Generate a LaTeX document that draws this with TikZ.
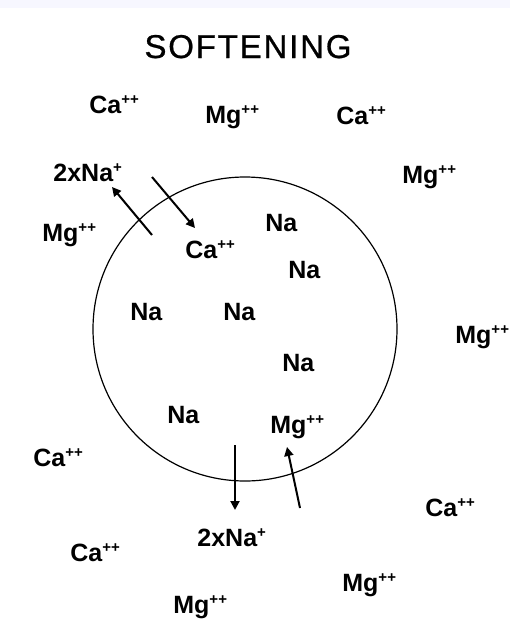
\documentclass[tikz,border=0pt]{standalone}
\usepackage{fontspec}
\setmainfont{Liberation Sans}
\usetikzlibrary{arrows.meta}
\newcommand{\chg}[1]{\raisebox{0.62ex}{\fontsize{7.5}{8}\selectfont #1}}

\begin{document}
\begin{tikzpicture}[x=0.5pt, y=-0.5pt,
    ion/.style={font=\bfseries\fontsize{12.5}{14}\selectfont, inner sep=0pt, anchor=base west},
    heading/.style={font=\fontsize{16.5}{20}\selectfont\addfontfeatures{LetterSpace=5.5, FakeBold=0.7}, inner sep=0pt, anchor=base},
    bead/.style={circle, draw, line width=0.6pt, minimum size=152pt, inner sep=0pt},
    arrow/.style={-{Triangle[length=4.5pt, width=4.5pt]}, line width=1pt}
]
\clip (0,0) rectangle (510,628);
\fill[blue!3] (0,0) rectangle (510,8);
% Title
\node[heading] (title) at (248,58) {SOFTENING};
% Resin bead
\node[bead] (resin) at (245,329) {};
% Hard water ions outside (top)
\node[ion] (caA) at (89,113) {Ca\chg{++}};
\node[ion] (mgA) at (205,123) {Mg\chg{++}};
\node[ion] (caB) at (336,124) {Ca\chg{++}};
\node[ion] (mgB) at (402,183) {Mg\chg{++}};
\node[ion] (naOut) at (53,181) {2xNa\chg{+}};
\node[ion] (mgC) at (42,241) {Mg\chg{++}};
\node[ion] (mgD) at (455,343) {Mg\chg{++}};
% Ions inside the bead
\node[ion] (caIn) at (185,258) {Ca\chg{++}};
\node[ion] (naA) at (265,231) {Na};
\node[ion] (naB) at (288,278) {Na};
\node[ion] (naC) at (130,320) {Na};
\node[ion] (naD) at (223,320) {Na};
\node[ion] (naE) at (282,371) {Na};
\node[ion] (naF) at (167,423) {Na};
\node[ion] (mgIn) at (270,433) {Mg\chg{++}};
% Hard water ions outside (bottom)
\node[ion] (caC) at (33,466) {Ca\chg{++}};
\node[ion] (caD) at (425,516) {Ca\chg{++}};
\node[ion] (naBot) at (197,546) {2xNa\chg{+}};
\node[ion] (caE) at (70,561) {Ca\chg{++}};
\node[ion] (mgE) at (342,591) {Mg\chg{++}};
\node[ion] (mgF) at (173,613) {Mg\chg{++}};
% Arrow ends
\coordinate (outTopS) at (152,235);
\coordinate (outTopE) at (112,187);
\coordinate (inTopS) at (152,177);
\coordinate (inTopE) at (195,228);
\coordinate (outBotS) at (235,445);
\coordinate (outBotE) at (235,510);
\coordinate (inBotS) at (300,508);
\coordinate (inBotE) at (287,447);
% Exchange arrows
\draw[arrow] (outTopS) -- (outTopE);
\draw[arrow] (inTopS) -- (inTopE);
\draw[arrow] (outBotS) -- (outBotE);
\draw[arrow] (inBotS) -- (inBotE);
\end{tikzpicture}
\end{document}
